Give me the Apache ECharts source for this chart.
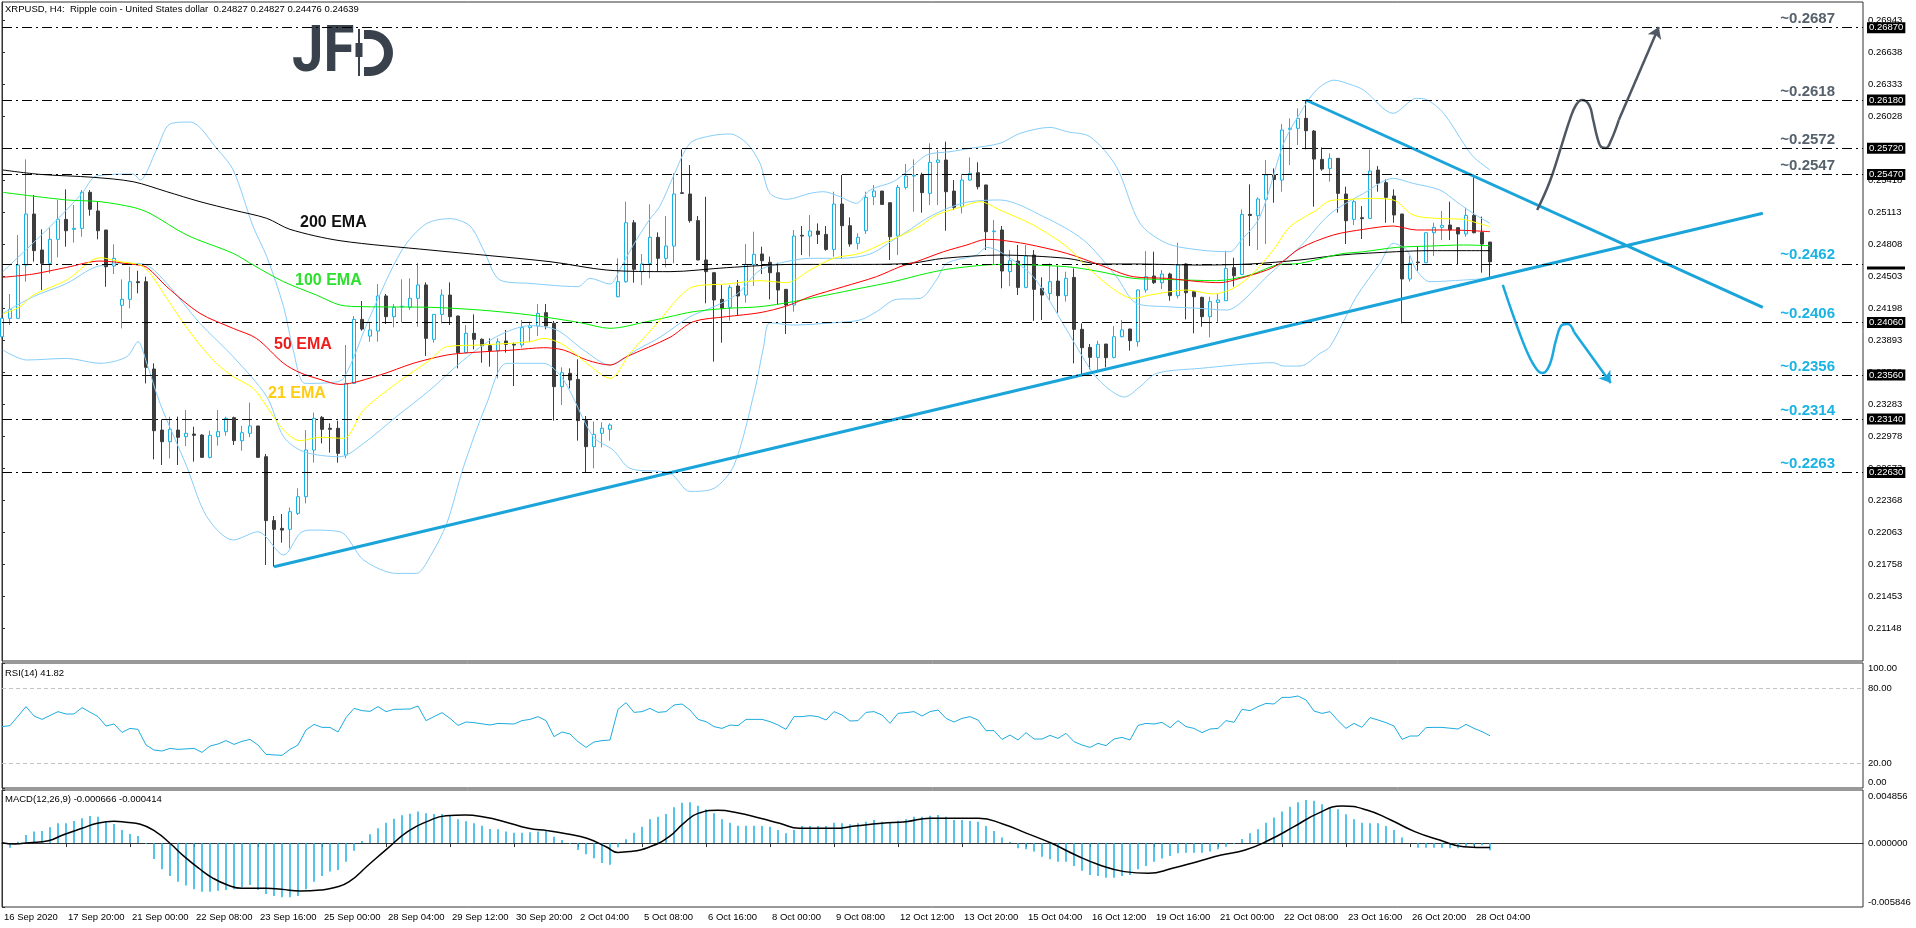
<!DOCTYPE html>
<html>
<head>
<meta charset="utf-8">
<title>XRPUSD H4</title>
<style>
  html, body { margin: 0; padding: 0; background: #fff; }
  #main { width: 1916px; height: 928px; }
</style>
</head>
<body>
<div id="main"></div>
<script src="https://cdn.jsdelivr.net/npm/echarts@6/dist/echarts.min.js"></script>
<script>
// H4 bars, index 0 = 16 Sep 2020
var opens = [
  0.23925,0.24100,0.24100,0.24608,0.25094,0.24751,0.24624,0.24853,0.25043,0.24948,
  0.24958,0.25301,0.25123,0.24942,0.24599,0.24224,0.24281,0.24449,0.24449,0.23617,
  0.23035,0.22924,0.23035,0.22972,0.22997,0.22988,0.22775,0.22972,0.23020,0.23153,
  0.22934,0.23004,0.23074,0.22781,0.22172,0.22098,0.22089,0.22241,0.22400,0.22845,
  0.23156,0.23052,0.23052,0.22797,0.23480,0.24090,0.23931,0.23979,0.24313,0.24116,
  0.24210,0.24205,0.24291,0.24418,0.23900,0.24138,0.24322,0.24122,0.23773,0.23957,
  0.23900,0.23839,0.23792,0.23884,0.23852,0.23846,0.24011,0.24027,0.24154,0.24052,
  0.23449,0.23576,0.23518,0.23125,0.22877,0.23004,0.23042,0.24306,0.24449,0.25011,
  0.24544,0.24624,0.24872,0.24672,0.24789,0.25297,0.25285,0.25031,0.24656,0.24535,
  0.24281,0.24205,0.24408,0.24322,0.24614,0.24713,0.24634,0.24535,0.24376,0.24227,
  0.24891,0.24884,0.24932,0.24900,0.24757,0.25189,0.24983,0.24815,0.24935,0.25259,
  0.25313,0.25202,0.24884,0.25348,0.25456,0.25466,0.25291,0.25587,0.25609,0.25313,
  0.25164,0.25418,0.25488,0.25371,0.24926,0.24942,0.24545,0.24646,0.24395,0.24703,
  0.24386,0.24338,0.24455,0.24316,0.24490,0.23995,0.23823,0.23728,0.23855,0.23728,
  0.23925,0.23998,0.23877,0.24370,0.24503,0.24440,0.24522,0.24316,0.24618,0.24354,
  0.24300,0.24116,0.24252,0.24268,0.24583,0.24519,0.25091,0.25078,0.25234,0.25466,
  0.25418,0.25901,0.25911,0.26006,0.25885,0.25615,0.25529,0.25625,0.25285,0.25043,
  0.25059,0.25053,0.25513,0.25393,0.25266,0.25094,0.24475,0.24637,0.24630,0.24916,
  0.24967,0.24989,0.24964,0.24904,0.25081,0.24919,0.24827
];
var highs = [
  0.24116,0.24332,0.24894,0.25615,0.25275,0.24948,0.24967,0.25228,0.25329,0.25180,
  0.25323,0.25323,0.25212,0.24942,0.24805,0.24471,0.24592,0.24554,0.24497,0.23671,
  0.23137,0.23163,0.23163,0.23226,0.23067,0.22995,0.23029,0.23226,0.23163,0.23163,
  0.23074,0.23296,0.23074,0.22807,0.22216,0.22235,0.22298,0.22480,0.23035,0.23201,
  0.23169,0.23099,0.23124,0.23846,0.24122,0.24265,0.24068,0.24427,0.24332,0.24236,
  0.24472,0.24481,0.24624,0.24443,0.24140,0.24376,0.24443,0.24125,0.24036,0.24138,
  0.23909,0.23909,0.23909,0.23989,0.23868,0.24084,0.24068,0.24236,0.24236,0.24074,
  0.23633,0.23623,0.23709,0.23169,0.23115,0.23109,0.23099,0.24672,0.25212,0.25037,
  0.24713,0.25186,0.24919,0.25075,0.25482,0.25710,0.25561,0.25075,0.25259,0.24536,
  0.24417,0.24417,0.24465,0.24808,0.24926,0.24783,0.24688,0.24630,0.24378,0.24942,
  0.24980,0.25085,0.25005,0.24980,0.25307,0.25466,0.25062,0.24910,0.25307,0.25371,
  0.25314,0.25203,0.25371,0.25571,0.25615,0.25488,0.25768,0.25704,0.25784,0.25418,
  0.25475,0.25634,0.25587,0.25372,0.25037,0.24980,0.24751,0.24799,0.24799,0.24751,
  0.24490,0.24624,0.24598,0.24545,0.24576,0.24052,0.23855,0.23887,0.23856,0.24027,
  0.24084,0.24000,0.24376,0.24741,0.24735,0.24560,0.24535,0.24821,0.24624,0.24355,
  0.24306,0.24306,0.24332,0.24745,0.24678,0.25138,0.25377,0.25253,0.25609,0.25529,
  0.25952,0.26006,0.26101,0.26181,0.25895,0.25729,0.25672,0.25626,0.25355,0.25234,
  0.25170,0.25710,0.25551,0.25424,0.25329,0.25095,0.24694,0.24789,0.24917,0.25011,
  0.25123,0.25212,0.24965,0.25154,0.25456,0.25069,0.24827
];
var lows = [
  0.23909,0.24036,0.24095,0.24449,0.24640,0.24370,0.24529,0.24681,0.24783,0.24821,
  0.24878,0.25078,0.24853,0.24401,0.24522,0.24004,0.24195,0.24338,0.23480,0.22756,
  0.22702,0.22765,0.22702,0.22883,0.22734,0.22770,0.22765,0.22886,0.22981,0.22893,
  0.22838,0.22966,0.22770,0.21749,0.21733,0.21962,0.21908,0.22225,0.22336,0.22724,
  0.22908,0.22820,0.22724,0.22766,0.23478,0.23982,0.23877,0.23877,0.24046,0.24014,
  0.24059,0.24179,0.24020,0.23741,0.23868,0.24052,0.24036,0.23623,0.23766,0.23804,
  0.23677,0.23639,0.23528,0.23773,0.23455,0.23820,0.23877,0.23931,0.23995,0.23125,
  0.23274,0.23433,0.22934,0.22629,0.22670,0.22870,0.22934,0.24300,0.24440,0.24440,
  0.24417,0.24481,0.24550,0.24586,0.24624,0.25290,0.25012,0.24655,0.24243,0.23687,
  0.23868,0.24078,0.24132,0.24249,0.24408,0.24522,0.24281,0.24227,0.23951,0.24163,
  0.24703,0.24688,0.24808,0.24745,0.24688,0.24672,0.24783,0.24757,0.24904,0.25180,
  0.25180,0.24656,0.24703,0.25329,0.25116,0.25107,0.25180,0.25180,0.24935,0.25132,
  0.25100,0.25412,0.25329,0.24751,0.24608,0.24386,0.24408,0.24322,0.24386,0.24077,
  0.24084,0.24268,0.24154,0.24259,0.23671,0.23550,0.23614,0.23591,0.23633,0.23718,
  0.23919,0.23792,0.23830,0.24344,0.24427,0.24379,0.24268,0.24290,0.24090,0.23957,
  0.24020,0.23919,0.24068,0.24265,0.24402,0.24513,0.24789,0.24751,0.24808,0.25202,
  0.25307,0.25561,0.25752,0.25710,0.25164,0.25507,0.25402,0.25107,0.24808,0.24989,
  0.24856,0.25050,0.25307,0.25011,0.25011,0.24052,0.24449,0.24554,0.24629,0.24694,
  0.24846,0.24846,0.24618,0.24878,0.24910,0.24535,0.24476
];
var closes = [
  0.24100,0.24185,0.24608,0.25094,0.24745,0.24624,0.24853,0.25043,0.24935,0.24958,
  0.25301,0.25139,0.24935,0.24592,0.24672,0.24281,0.24449,0.24440,0.23633,0.23029,
  0.22924,0.23042,0.22966,0.23004,0.22985,0.22775,0.22985,0.23020,0.23147,0.22934,
  0.23010,0.23074,0.22775,0.22172,0.22089,0.22082,0.22257,0.22400,0.22845,0.23147,
  0.23042,0.23042,0.22813,0.23480,0.24090,0.23998,0.23989,0.24313,0.24116,0.24205,
  0.24215,0.24291,0.24418,0.23909,0.24138,0.24322,0.24116,0.23773,0.23957,0.23900,
  0.23839,0.23792,0.23877,0.23852,0.23845,0.24011,0.24030,0.24147,0.24027,0.23449,
  0.23582,0.23512,0.23125,0.22877,0.22994,0.23052,0.23083,0.24449,0.25011,0.24567,
  0.24618,0.24872,0.24672,0.24789,0.25285,0.25291,0.25031,0.24656,0.24545,0.24275,
  0.24195,0.24395,0.24313,0.24614,0.24710,0.24649,0.24535,0.24370,0.24227,0.24884,
  0.24884,0.24932,0.24900,0.24757,0.25189,0.24983,0.24808,0.24872,0.25253,0.25313,
  0.25186,0.24878,0.25348,0.25456,0.25463,0.25298,0.25587,0.25609,0.25307,0.25158,
  0.25418,0.25482,0.25355,0.24926,0.24932,0.24551,0.24649,0.24395,0.24694,0.24376,
  0.24322,0.24449,0.24316,0.24481,0.23995,0.23820,0.23728,0.23852,0.23725,0.23925,
  0.23989,0.23887,0.24370,0.24497,0.24440,0.24522,0.24316,0.24608,0.24344,0.24306,
  0.24116,0.24259,0.24275,0.24576,0.24506,0.25091,0.25081,0.25237,0.25466,0.25424,
  0.25895,0.25911,0.26006,0.25888,0.25618,0.25523,0.25625,0.25291,0.25030,0.25212,
  0.25050,0.25504,0.25386,0.25253,0.25085,0.24475,0.24624,0.24630,0.24916,0.24967,
  0.24986,0.24942,0.24904,0.25081,0.24916,0.24808,0.24639
];

// indicator lines: [bar, price]
var ema200 = [[0.1,0.25514],[4.75,0.25472],[11.4,0.25444],[16.4,0.25402],[20.6,0.25307],[24.75,0.25212],[28.9,0.25132],[33.1,0.25053],[36,0.24948],[42.25,0.24840],[53.5,0.24751],[68.5,0.24640],[75.6,0.24560],[83.5,0.24545],[90.6,0.24583],[98.9,0.24614],[107.25,0.24614],[113.5,0.24624],[117.7,0.24672],[124.75,0.24703],[133.1,0.24672],[137.25,0.24618],[141.4,0.24618],[149.75,0.24608],[156,0.24618],[162.25,0.24656],[167.25,0.24703],[174.3,0.24735],[178.5,0.24745],[186,0.24745]];
var ema100 = [[0.1,0.25301],[8.1,0.25228],[12.25,0.25212],[16.4,0.25158],[18.5,0.25100],[23.1,0.24894],[28.9,0.24719],[31.4,0.24608],[35.2,0.24449],[39.3,0.24322],[42.25,0.24227],[45.2,0.24211],[53.5,0.24205],[59.75,0.24179],[66,0.24132],[72.25,0.24059],[76,0.24005],[80.6,0.24068],[83.5,0.24116],[86.4,0.24163],[90.6,0.24195],[94.75,0.24211],[98.9,0.24259],[103.1,0.24322],[107.25,0.24386],[111.4,0.24449],[115.6,0.24529],[118.9,0.24576],[124.75,0.24614],[133.1,0.24592],[137.25,0.24545],[141.4,0.24481],[145.6,0.24471],[151.8,0.24459],[156,0.24513],[159.3,0.24608],[162.25,0.24624],[167.25,0.24713],[170.2,0.24735],[174.3,0.24776],[178.5,0.24789],[182.7,0.24799],[186,0.24792]];
var ema50 = [[0.1,0.24491],[3.9,0.24522],[8.1,0.24586],[12.25,0.24646],[16.4,0.24614],[18.1,0.24586],[20.6,0.24401],[24.75,0.24147],[28.9,0.24004],[31.8,0.23909],[35.2,0.23671],[37.25,0.23582],[39.75,0.23518],[42.25,0.23470],[47.25,0.23560],[51.4,0.23671],[55.6,0.23750],[58.5,0.23773],[63.9,0.23798],[67.7,0.23820],[70.2,0.23798],[73.1,0.23703],[76,0.23655],[78.1,0.23735],[83.5,0.23919],[86.4,0.24068],[90.6,0.24116],[94.75,0.24154],[98.1,0.24218],[101,0.24306],[105.2,0.24402],[109.3,0.24497],[112.25,0.24592],[114.3,0.24640],[117.7,0.24735],[120.6,0.24799],[123.1,0.24853],[124.75,0.24846],[128.1,0.24808],[133.1,0.24719],[137.25,0.24608],[141.4,0.24497],[145.6,0.24481],[149.75,0.24449],[152.25,0.24440],[154.75,0.24481],[158.1,0.24560],[159.75,0.24624],[162.25,0.24767],[166.4,0.24894],[170.2,0.24948],[173.9,0.24980],[176.8,0.24942],[181,0.24942],[186,0.24926]];
var ema21 = [[0.1,0.24141],[2.25,0.24211],[3.9,0.24322],[8.1,0.24465],[12.25,0.24678],[14.75,0.24640],[17.25,0.24608],[18.5,0.24529],[20.6,0.24290],[22.7,0.24052],[24.75,0.23846],[26.8,0.23671],[28.9,0.23544],[31.4,0.23433],[33.1,0.23258],[35.2,0.23035],[37.25,0.22934],[39.75,0.22966],[42.7,0.22956],[45.2,0.23226],[49.3,0.23480],[53.5,0.23703],[55.6,0.23830],[59.75,0.23846],[66,0.23877],[67.7,0.23909],[70.2,0.23846],[73.1,0.23671],[76,0.23528],[78.5,0.23766],[82.25,0.24084],[84.3,0.24275],[86.4,0.24402],[90.6,0.24427],[94.75,0.24459],[98.1,0.24440],[101,0.24560],[103.9,0.24672],[107.25,0.24719],[110.6,0.24830],[112.25,0.24884],[114.75,0.24980],[116.8,0.25085],[119.75,0.25158],[122.25,0.25212],[124.75,0.25132],[128.9,0.24989],[133.1,0.24783],[135.2,0.24624],[138.5,0.24402],[141.4,0.24290],[143.5,0.24322],[148.1,0.24370],[151.4,0.24332],[153.9,0.24386],[156.4,0.24529],[158.9,0.24751],[161,0.24973],[164.3,0.25132],[166,0.25221],[168.5,0.25234],[171,0.25243],[173.9,0.25228],[176.4,0.25085],[179.3,0.25053],[182.7,0.25043],[184.3,0.25011],[186,0.24973]];
var bbUpper = [[0.1,0.24545],[6,0.24973],[10,0.25291],[11.8,0.25456],[16.4,0.25475],[17.25,0.25418],[19.3,0.25704],[21,0.25952],[23.5,0.25971],[27,0.25704],[28.9,0.25514],[31.4,0.24973],[33.1,0.24687],[35.2,0.24211],[36.4,0.23798],[37.9,0.23480],[41,0.23487],[42.7,0.23528],[46,0.24116],[50,0.24751],[53,0.25000],[56,0.25050],[58.5,0.24980],[60.2,0.24751],[62.25,0.24465],[66,0.24433],[72,0.24402],[73.5,0.24481],[76,0.24427],[77.2,0.24560],[78.8,0.24783],[80.9,0.25037],[82.2,0.25164],[83.9,0.25450],[86,0.25768],[88.5,0.25838],[91,0.25857],[93.1,0.25768],[94.75,0.25577],[96,0.25291],[98.1,0.25234],[101,0.25291],[102.7,0.25307],[104.75,0.25259],[106.8,0.25196],[108.5,0.25323],[111.4,0.25402],[113.1,0.25498],[115.6,0.25657],[118.5,0.25688],[121,0.25720],[124.75,0.25768],[127.25,0.25863],[131,0.25920],[133.1,0.25879],[136,0.25831],[139.3,0.25545],[142.25,0.25005],[145.6,0.24815],[149.75,0.24751],[153.5,0.24735],[154.75,0.24830],[157.25,0.25069],[160.2,0.25768],[162.25,0.26054],[164.3,0.26276],[166.5,0.26370],[168.5,0.26330],[170.2,0.26276],[173.9,0.26054],[176.8,0.26196],[178,0.26187],[180.2,0.26054],[182.7,0.25768],[183.9,0.25641],[186,0.25513]];
var bbMiddle = [[0.1,0.24147],[3.9,0.24306],[8.1,0.24433],[11.8,0.24592],[16.4,0.24624],[18.1,0.24608],[20.6,0.24433],[24.75,0.24052],[28.9,0.23734],[33.1,0.23353],[35.2,0.22972],[37.7,0.22829],[42.25,0.22781],[45.2,0.22908],[49.3,0.23163],[53.5,0.23417],[57.7,0.23703],[61.8,0.23925],[66,0.24030],[69.3,0.23990],[72.7,0.23798],[76,0.23655],[79.3,0.23798],[82.25,0.23920],[86,0.24116],[89,0.24211],[92,0.24338],[94.75,0.24560],[98,0.24640],[101,0.24672],[104.75,0.24672],[108.5,0.24713],[111.4,0.24846],[113.1,0.24926],[115.6,0.25053],[118.5,0.25158],[121,0.25212],[124.75,0.25228],[130.2,0.25069],[135.2,0.24846],[139.3,0.24497],[141.8,0.24243],[145.6,0.24211],[149.75,0.24195],[153.1,0.24179],[154.75,0.24243],[158.1,0.24497],[162.25,0.24783],[166,0.25094],[170.2,0.25291],[173.9,0.25434],[176.4,0.25386],[179.75,0.25323],[181.8,0.25212],[183.9,0.25100],[186,0.25005]];
var bbLower = [[0.1,0.23798],[3.1,0.23703],[8.1,0.23718],[12.25,0.23671],[15.6,0.23734],[17,0.23877],[18.1,0.23671],[19.75,0.23290],[23.1,0.22686],[25.6,0.22210],[28.9,0.21987],[32,0.22066],[35.2,0.21844],[37.25,0.22051],[38.5,0.22082],[42.25,0.22066],[45.2,0.21797],[49.3,0.21669],[51.8,0.21669],[53.5,0.21828],[55.6,0.22146],[57.7,0.22686],[60.6,0.23290],[63.1,0.23671],[67.7,0.23671],[70.2,0.23512],[73.9,0.22972],[76.4,0.22845],[78.5,0.22670],[83.5,0.22623],[86,0.22450],[89,0.22480],[91.5,0.22700],[94.1,0.23417],[95.2,0.23830],[96,0.24058],[98.9,0.24036],[103.9,0.24058],[107.25,0.24084],[109.3,0.24163],[111.8,0.24281],[114.75,0.24290],[116.8,0.24465],[118.1,0.24624],[121.8,0.24703],[123.1,0.24776],[124.75,0.24735],[128.9,0.24497],[133.1,0.23988],[136.4,0.23575],[138.5,0.23417],[140.3,0.23350],[142.25,0.23448],[144.3,0.23575],[149.75,0.23623],[158.9,0.23677],[160.2,0.23645],[162.25,0.23645],[164.75,0.23766],[166,0.23830],[169.3,0.24306],[172.25,0.24624],[173.9,0.24815],[175.6,0.24751],[176.8,0.24560],[178.5,0.24449],[182.7,0.24465],[186,0.24481]];

// analyst drawings
var trendUp = [[34, 0.21733], [220.1, 0.25101]];
var trendDown = [[163, 0.26181], [220.1, 0.24205]];
var arrowUpPath = [[191.9,0.25132],[193.5,0.25409],[195,0.25761],[196,0.25999],[196.75,0.26133],[197.5,0.26181],[198.4,0.26133],[198.9,0.25990],[199.4,0.25828],[199.9,0.25733],[200.5,0.25723],[201.1,0.25790],[202.1,0.25990]];
var arrowUpHead = [[202.1,0.25990],[207.1,0.26876]];
var arrowDownPath = [[187.6,0.24418],[189.1,0.24084],[190.75,0.23760],[191.9,0.23608],[192.6,0.23579],[193.5,0.23665],[194.25,0.23893],[195,0.24036],[195.75,0.24046],[196.5,0.23970]];
var arrowDownHead = [[196.5,0.23970],[201.1,0.23484]];

var levelsUpper = [0.2687, 0.2618, 0.2572, 0.2547];
var levelsLower = [0.2462, 0.2406, 0.2356, 0.2314, 0.2263];
var priceBoxes = [0.2687, 0.2618, 0.2572, 0.2547, 0.2406, 0.2356, 0.2314, 0.2263];

// RSI(14): [bar, value]
var rsi = [[0,49.1],[1,49.9],[3,65.1],[4,57.6],[5,54.9],[7,61.1],[8,59.2],[9,59.2],[10,64.3],[12,57.1],[13,49.6],[14,51.2],[15,44.5],[16,47.7],[17,46.9],[18,34.4],[19,30.4],[20,29.6],[21,31.7],[22,30.9],[24,31.7],[25,28.5],[26,33.6],[27,35.2],[28,37.9],[29,34.9],[30,37.3],[31,38.9],[32,34.4],[33,26.9],[35,26.1],[36,30.9],[37,34.4],[38,46.4],[39,50.9],[40,48.5],[41,48.5],[42,44.8],[43,56.3],[44,63.7],[45,61.9],[46,61.3],[47,65.1],[48,61.1],[49,62.9],[51,63.2],[52,65.6],[53,53.9],[54,57.1],[55,60.3],[56,55.7],[57,50.1],[58,52.8],[59,52.3],[61,50.4],[62,51.7],[64,51.2],[65,53.9],[66,54.9],[67,57.1],[68,53.9],[69,41.1],[70,44.8],[71,43.2],[72,37.1],[73,32.5],[74,36.8],[75,37.9],[76,38.4],[77,62.9],[78,68.3],[79,60.5],[80,61.1],[81,63.7],[82,60.5],[83,61.1],[84,66.4],[85,67.2],[86,62.4],[87,54.9],[88,53.1],[89,49.1],[90,47.7],[91,50.4],[92,49.9],[93,54.9],[95,54.9],[96,53.1],[97,50.4],[98,46.9],[99,57.1],[100,57.1],[101,57.9],[102,57.1],[103,54.4],[104,61.1],[105,58.4],[106,53.6],[107,53.9],[108,60.5],[109,61.1],[110,58.4],[111,51.7],[112,59.7],[113,60.3],[114,61.1],[115,57.6],[116,61.1],[117,62.4],[118,55.7],[119,52.8],[120,55.7],[121,57.1],[122,54.4],[123,45.9],[124,45.9],[125,38.9],[126,42.4],[127,38.4],[128,44.3],[129,39.2],[130,39.2],[131,42.1],[132,39.7],[133,43.7],[134,37.1],[135,34.4],[136,32.5],[137,35.7],[138,33.9],[139,39.2],[140,40.5],[141,38.4],[142,50.1],[143,51.7],[144,51.2],[145,52.5],[146,48.3],[147,53.9],[148,49.1],[149,47.7],[150,44.3],[151,47.2],[152,47.7],[153,53.9],[154,52.5],[155,62.9],[156,61.9],[157,65.1],[158,67.7],[159,67.2],[160,72.5],[161,72.5],[162,73.6],[163,70.4],[164,61.6],[165,59.7],[166,61.1],[167,53.9],[168,47.7],[169,51.7],[170,48.5],[171,56.3],[172,54.4],[173,52.3],[174,49.6],[175,38.9],[176,41.6],[177,41.6],[178,48.3],[179,48.5],[180,48.5],[182,47.2],[183,50.9],[184,47.7],[185,45.1],[186,41.82]];

// MACD(12,26,9) histogram per bar and signal line
var macdHist = [
  0.00001,-0.00042,0.00013,0.00074,0.00105,0.00111,0.00144,0.00181,0.00181,0.00202,
  0.00227,0.00248,0.00242,0.00202,0.00175,0.00120,0.00083,0.00065,-0.00008,-0.00145,
  -0.00240,-0.00300,-0.00353,-0.00389,-0.00423,-0.00444,-0.00444,-0.00435,-0.00429,-0.00423,
  -0.00405,-0.00383,-0.00429,-0.00466,-0.00484,-0.00496,-0.00496,-0.00484,-0.00423,-0.00353,
  -0.00300,-0.00261,-0.00246,-0.00170,-0.00069,0.00019,0.00080,0.00135,0.00187,0.00223,
  0.00254,0.00269,0.00288,0.00272,0.00266,0.00266,0.00257,0.00217,0.00199,0.00181,
  0.00159,0.00129,0.00126,0.00105,0.00095,0.00095,0.00098,0.00105,0.00111,0.00059,
  0.00028,-0.00008,-0.00063,-0.00103,-0.00139,-0.00182,-0.00197,-0.00039,0.00034,0.00095,
  0.00150,0.00217,0.00242,0.00266,0.00327,0.00370,0.00373,0.00342,0.00309,0.00272,
  0.00217,0.00187,0.00159,0.00159,0.00159,0.00156,0.00150,0.00120,0.00089,0.00120,
  0.00156,0.00156,0.00156,0.00156,0.00187,0.00181,0.00172,0.00181,0.00196,0.00211,
  0.00196,0.00187,0.00205,0.00217,0.00242,0.00242,0.00251,0.00257,0.00242,0.00211,
  0.00211,0.00202,0.00196,0.00156,0.00111,0.00050,0.00013,-0.00048,-0.00057,-0.00078,
  -0.00124,-0.00148,-0.00170,-0.00170,-0.00209,-0.00252,-0.00292,-0.00301,-0.00316,-0.00316,
  -0.00301,-0.00292,-0.00240,-0.00209,-0.00170,-0.00140,-0.00118,-0.00094,-0.00088,-0.00088,
  -0.00088,-0.00078,-0.00057,-0.00033,-0.00008,0.00038,0.00089,0.00126,0.00187,0.00233,
  0.00288,0.00333,0.00373,0.00394,0.00388,0.00355,0.00327,0.00309,0.00263,0.00217,
  0.00187,0.00181,0.00181,0.00156,0.00120,0.00050,-0.00002,-0.00042,-0.00042,-0.00042,
  -0.00042,-0.00048,-0.00048,-0.00027,-0.00027,-0.00020,-0.000666
];
var macdSignal = [[0,0.00004],[1.6,-0.00008],[3.4,0.00004],[5.8,0.00022],[7.6,0.00074],[10,0.00135],[11.9,0.00181],[14,0.00199],[15.5,0.00190],[17.3,0.00172],[19.2,0.00105],[21,-0.00002],[22.8,-0.00124],[24.6,-0.00230],[26.4,-0.00322],[28.2,-0.00383],[30,-0.00414],[33.1,-0.00414],[34.9,-0.00423],[37.3,-0.00438],[39.8,-0.00429],[41.6,-0.00407],[43.4,-0.00353],[45.8,-0.00200],[48.2,-0.00048],[50.7,0.00105],[53.1,0.00196],[55.5,0.00251],[57.9,0.00257],[60.4,0.00236],[62.8,0.00196],[65.8,0.00135],[68.2,0.00114],[70.7,0.00083],[73.1,0.00044],[75.5,-0.00033],[77,-0.00085],[78.5,-0.00078],[81,-0.00033],[83.4,0.00059],[85.2,0.00181],[87,0.00272],[89.5,0.00300],[91.9,0.00278],[94.8,0.00227],[97.2,0.00181],[99.7,0.00135],[103.9,0.00135],[106.9,0.00159],[110,0.00181],[113,0.00196],[116,0.00227],[122.1,0.00227],[125.1,0.00175],[128.1,0.00089],[131.2,-0.00002],[134.2,-0.00109],[137.2,-0.00200],[140.3,-0.00261],[143.3,-0.00277],[146.3,-0.00231],[149.4,-0.00170],[152.4,-0.00109],[155.4,-0.00063],[158.4,0.00028],[161.5,0.00150],[164.5,0.00272],[167.5,0.00339],[170.6,0.00303],[173.6,0.00211],[176.6,0.00105],[179.7,0.00028],[182.7,-0.00033],[186,-0.000414]];

var priceTicks = [0.21148,0.21453,0.21758,0.22063,0.22368,0.22673,0.22978,0.23283,0.23588,0.23893,0.24198,0.24503,0.24808,0.25113,0.25418,0.25723,0.26028,0.26333,0.26638,0.26943];
var timeTicks = [0,8,16,24,32,40,48,56,64,72,80,88,96,104,112,120,128,136,144,152,160,168,176,184];
var timeLabels = ['16 Sep 2020','17 Sep 20:00','21 Sep 00:00','22 Sep 08:00','23 Sep 16:00','25 Sep 00:00','28 Sep 04:00','29 Sep 12:00','30 Sep 20:00','2 Oct 04:00','5 Oct 08:00','6 Oct 16:00','8 Oct 00:00','9 Oct 08:00','12 Oct 12:00','13 Oct 20:00','15 Oct 04:00','16 Oct 12:00','19 Oct 16:00','21 Oct 00:00','22 Oct 08:00','23 Oct 16:00','26 Oct 20:00','28 Oct 04:00'];

var candleData = [];
for (var i = 0; i < opens.length; i++) {
  candleData.push([i, opens[i], closes[i], lows[i], highs[i]]);
}
var histData = [];
for (var j = 0; j < macdHist.length; j++) {
  histData.push([j, macdHist[j]]);
}

var FONT = 'Liberation Sans';
var SMALL = 9.5;
var BULL = '#16b2e6';
var BEAR = '#3d3d3d';
var TREND = '#1aa4da';
var LOGO = '#39424c';
var XMAX = 232.625;

var levelData = [];
levelsUpper.forEach(function (v) {
  levelData.push({ yAxis: v, label: { color: '#56616c' } });
});
levelsLower.forEach(function (v) {
  levelData.push({ yAxis: v, label: { color: '#1ab3e3' } });
});
var boxData = priceBoxes.map(function (v) { return { yAxis: v }; });
boxData.push({
  yAxis: 0.2458,
  label: { formatter: '{b| }', backgroundColor: 'transparent', padding: 0,
    rich: { b: { width: 38, height: 3, backgroundColor: '#000' } } }
});

function lineSeries(data, color, width) {
  return {
    type: 'line', xAxisIndex: 0, yAxisIndex: 0, data: data,
    showSymbol: false, symbol: 'none', smooth: 0.3, silent: true, z: 3,
    lineStyle: { color: color, width: width || 1 }
  };
}

var myChart = echarts.init(document.getElementById('main'));
var option = {
  animation: false,
  backgroundColor: '#ffffff',
  textStyle: { fontFamily: FONT },
  grid: [
    { left: 2, top: 2, width: 1861, height: 659, show: true, borderColor: '#333', borderWidth: 1, backgroundColor: '#fff' },
    { left: 2, top: 663, width: 1861, height: 125, show: true, borderColor: '#333', borderWidth: 1, backgroundColor: '#fff' },
    { left: 2, top: 790, width: 1861, height: 117, show: true, borderColor: '#333', borderWidth: 1, backgroundColor: '#fff' }
  ],
  xAxis: [
    { type: 'value', gridIndex: 0, min: 0, max: XMAX, show: false },
    { type: 'value', gridIndex: 1, min: 0, max: XMAX, show: false },
    {
      type: 'value', gridIndex: 2, min: 0, max: XMAX,
      axisLine: { show: true, lineStyle: { color: '#333' } },
      splitLine: { show: false },
      axisTick: { show: true, customValues: timeTicks, length: 4, lineStyle: { color: '#333' } },
      axisLabel: {
        customValues: timeTicks, align: 'left', margin: 5, padding: [0, 0, 0, 2],
        fontSize: SMALL, color: '#000',
        formatter: function (v) { return timeLabels[Math.round(v / 8)] || ''; }
      }
    }
  ],
  yAxis: [
    {
      type: 'value', gridIndex: 0, position: 'right', min: 0.20834, max: 0.27115,
      axisLine: { show: true, lineStyle: { color: '#333' } },
      splitLine: { show: false },
      axisTick: { show: true, customValues: priceTicks, length: 3, lineStyle: { color: '#333' } },
      axisLabel: { customValues: priceTicks, margin: 5, fontSize: SMALL, color: '#000',
        formatter: function (v) { return v.toFixed(5); } }
    },
    {
      type: 'value', gridIndex: 1, position: 'right', min: 0, max: 100,
      axisLine: { show: true, lineStyle: { color: '#333' } },
      splitLine: { show: false },
      axisTick: { show: true, customValues: [0, 20, 80, 100], length: 3, lineStyle: { color: '#333' } },
      axisLabel: {
        customValues: [0, 20, 80, 100], margin: 5, fontSize: SMALL, color: '#000',
        formatter: function (v) {
          if (v === 100) return '{t|100.00}';
          if (v === 0) return '{b|0.00}';
          return v.toFixed(2);
        },
        rich: { t: { padding: [10, 0, 0, 0] }, b: { padding: [0, 0, 12, 0] } }
      }
    },
    {
      type: 'value', gridIndex: 2, position: 'right', min: -0.005846, max: 0.004856,
      axisLine: { show: true, lineStyle: { color: '#333' } },
      splitLine: { show: false },
      axisTick: { show: true, customValues: [-0.005846, 0, 0.004856], length: 3, lineStyle: { color: '#333' } },
      axisLabel: {
        customValues: [-0.005846, 0, 0.004856], margin: 5, fontSize: SMALL, color: '#000',
        formatter: function (v) {
          if (v > 0.004) return '{t|' + v.toFixed(6) + '}';
          if (v < -0.005) return '{b|' + v.toFixed(6) + '}';
          return v.toFixed(6);
        },
        rich: { t: { padding: [12, 0, 0, 0] }, b: { padding: [0, 0, 10, 0] } }
      }
    }
  ],
  series: [
    {
      type: 'candlestick', xAxisIndex: 0, yAxisIndex: 0, z: 2,
      data: candleData, encode: { x: 0, y: [1, 2, 3, 4] },
      barWidth: 4, silent: true,
      itemStyle: { color: '#ffffff', color0: BEAR, borderColor: BULL, borderColor0: BEAR, borderWidth: 1 },
      markLine: {
        silent: true, symbol: 'none', animation: false, precision: 5,
        lineStyle: { color: '#000', width: 1, type: [10, 4, 2, 4] },
        label: {
          position: 'insideEndTop', distance: [28, 1],
          fontFamily: FONT, fontWeight: 'bold', fontSize: 15,
          formatter: function (p) { return '~' + Number(p.value).toFixed(4); }
        },
        data: levelData
      }
    },
    {
      type: 'line', xAxisIndex: 0, yAxisIndex: 0, data: [[0, 0.25]], symbol: 'none',
      lineStyle: { opacity: 0 }, silent: true, z: 5, clip: false,
      markLine: {
        silent: true, symbol: 'none', animation: false, precision: 5,
        lineStyle: { color: '#000', width: 0 },
        label: {
          position: 'end', distance: [4, 0], color: '#fff', backgroundColor: '#000',
          padding: [1, 2, 0, 2], fontSize: SMALL, fontFamily: FONT,
          formatter: function (p) { return Number(p.value).toFixed(5); }
        },
        data: boxData
      }
    },
    lineSeries(bbUpper, '#87cefa'),
    lineSeries(bbMiddle, '#87cefa'),
    lineSeries(bbLower, '#87cefa'),
    lineSeries(ema200, '#000000'),
    lineSeries(ema100, '#00ee00'),
    lineSeries(ema50, '#ff0000'),
    lineSeries(ema21, '#ffff00'),
    {
      type: 'line', xAxisIndex: 0, yAxisIndex: 0, data: trendUp, symbol: 'none', silent: true, z: 4,
      lineStyle: { color: TREND, width: 3 }
    },
    {
      type: 'line', xAxisIndex: 0, yAxisIndex: 0, data: trendDown, symbol: 'none', silent: true, z: 4,
      lineStyle: { color: TREND, width: 3 }
    },
    {
      type: 'line', xAxisIndex: 0, yAxisIndex: 0, data: arrowUpPath, symbol: 'none', smooth: 0.4, silent: true, z: 4,
      lineStyle: { color: '#4d5863', width: 2.5 },
      markLine: {
        silent: true, animation: false, symbol: ['none', 'arrow'], symbolSize: 11, precision: 5,
        lineStyle: { color: '#4d5863', width: 2.5, type: 'solid' }, label: { show: false },
        data: [[{ coord: arrowUpHead[0] }, { coord: arrowUpHead[1] }]]
      }
    },
    {
      type: 'line', xAxisIndex: 0, yAxisIndex: 0, data: arrowDownPath, symbol: 'none', smooth: 0.4, silent: true, z: 4,
      lineStyle: { color: '#19a9de', width: 2.5 },
      markLine: {
        silent: true, animation: false, symbol: ['none', 'arrow'], symbolSize: 11, precision: 5,
        lineStyle: { color: '#19a9de', width: 2.5, type: 'solid' }, label: { show: false },
        data: [[{ coord: arrowDownHead[0] }, { coord: arrowDownHead[1] }]]
      }
    },
    {
      type: 'line', xAxisIndex: 1, yAxisIndex: 1, data: rsi, symbol: 'none', silent: true,
      lineStyle: { color: '#1eacdf', width: 1 },
      markLine: {
        silent: true, symbol: 'none', animation: false, label: { show: false },
        lineStyle: { color: '#c4c4c4', width: 1, type: [4, 3] },
        data: [{ yAxis: 20 }, { yAxis: 80 }]
      }
    },
    {
      type: 'bar', xAxisIndex: 2, yAxisIndex: 2, data: histData, barWidth: 1.5, silent: true,
      itemStyle: { color: '#1db1e4' }
    },
    {
      type: 'line', xAxisIndex: 2, yAxisIndex: 2, data: macdSignal, symbol: 'none', smooth: true, silent: true, z: 4,
      lineStyle: { color: '#000', width: 1.5 }
    }
  ],
  graphic: [
    { type: 'text', x: 5, y: 9, silent: true,
      style: { text: 'XRPUSD, H4:  Ripple coin - United States dollar  0.24827 0.24827 0.24476 0.24639',
        fontSize: SMALL, fontFamily: FONT, fill: '#000', verticalAlign: 'middle' } },
    { type: 'text', x: 5, y: 673, silent: true,
      style: { text: 'RSI(14) 41.82', fontSize: SMALL, fontFamily: FONT, fill: '#000', verticalAlign: 'middle' } },
    { type: 'text', x: 5, y: 799, silent: true,
      style: { text: 'MACD(12,26,9) -0.000666 -0.000414', fontSize: SMALL, fontFamily: FONT, fill: '#000', verticalAlign: 'middle' } },
    // JFD logo
    { type: 'text', x: 292, y: 55, scaleX: 0.88, silent: true,
      style: { text: 'JF', fontSize: 64, fontWeight: 'bold', fontFamily: 'Roboto', fill: LOGO, verticalAlign: 'middle' } },
    { type: 'rect', silent: true, shape: { x: 358, y: 29, width: 2, height: 47 }, style: { fill: LOGO } },
    { type: 'rect', silent: true, shape: { x: 355.5, y: 43, width: 7, height: 14 }, style: { fill: LOGO } },
    { type: 'rect', silent: true, shape: { x: 364, y: 30, width: 7, height: 9 }, style: { fill: LOGO } },
    { type: 'rect', silent: true, shape: { x: 364, y: 67, width: 7, height: 9 }, style: { fill: LOGO } },
    { type: 'sector', silent: true,
      shape: { cx: 370, cy: 53, r: 23, r0: 14, startAngle: -Math.PI / 2, endAngle: Math.PI / 2, clockwise: true },
      style: { fill: LOGO } },
    // moving average captions
    { type: 'text', x: 300, y: 223, silent: true,
      style: { text: '200 EMA', fontSize: 16, fontWeight: 'bold', fontFamily: FONT, fill: '#111', verticalAlign: 'middle' } },
    { type: 'text', x: 295, y: 281, silent: true,
      style: { text: '100 EMA', fontSize: 16, fontWeight: 'bold', fontFamily: FONT, fill: '#2ee02e', verticalAlign: 'middle' } },
    { type: 'text', x: 274, y: 345, silent: true,
      style: { text: '50 EMA', fontSize: 16, fontWeight: 'bold', fontFamily: FONT, fill: '#ee1c1c', verticalAlign: 'middle' } },
    { type: 'text', x: 268, y: 394, silent: true,
      style: { text: '21 EMA', fontSize: 16, fontWeight: 'bold', fontFamily: FONT, fill: '#ffcc14', verticalAlign: 'middle' } }
  ]
};
myChart.setOption(option);
</script>
</body>
</html>
